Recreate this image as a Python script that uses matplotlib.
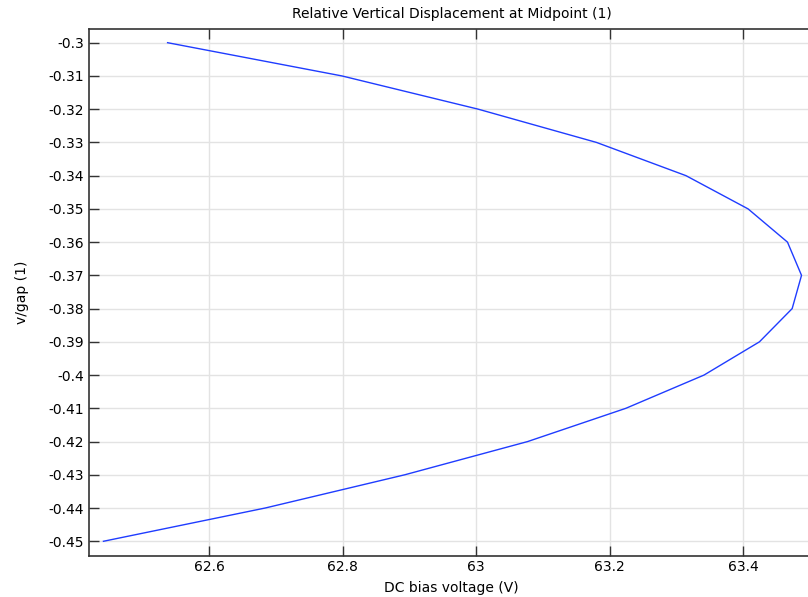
import matplotlib
matplotlib.use("Agg")
import matplotlib.pyplot as plt

displacement = [-0.30, -0.31, -0.32, -0.33, -0.34, -0.35, -0.36, -0.37,
                -0.38, -0.39, -0.40, -0.41, -0.42, -0.43, -0.44, -0.45]
voltage = [62.538, 62.799, 63.003, 63.180, 63.314, 63.407, 63.466, 63.487,
           63.473, 63.424, 63.341, 63.224, 63.077, 62.893, 62.684, 62.442]
xticks = [62.6, 62.8, 63.0, 63.2, 63.4]
xticklabels = ["62.6", "62.8", "63", "63.2", "63.4"]
yticks = [-0.30, -0.31, -0.32, -0.33, -0.34, -0.35, -0.36, -0.37,
          -0.38, -0.39, -0.40, -0.41, -0.42, -0.43, -0.44, -0.45]
yticklabels = ["-0.3", "-0.31", "-0.32", "-0.33", "-0.34", "-0.35", "-0.36", "-0.37",
               "-0.38", "-0.39", "-0.4", "-0.41", "-0.42", "-0.43", "-0.44", "-0.45"]

W, H = 808, 597
fig = plt.figure(figsize=(W / 100, H / 100), dpi=100)
left, right, top, bottom = 89, 814, 29, 556
ax = fig.add_axes([left / W, 1 - bottom / H, (right - left) / W, (bottom - top) / H])

ax.plot(voltage, displacement, color="#1f3cff", linewidth=1.0)

x0 = 62.6 - (209 - left) / 668.0
x1 = 62.6 + (right - 209) / 668.0
ax.set_xlim(x0, x1)
ax.set_ylim(-0.45443, -0.29588)

ax.set_xticks(xticks)
ax.set_xticklabels(xticklabels)
ax.set_yticks(yticks)
ax.set_yticklabels(yticklabels)
ax.grid(True, color="#e3e3e3", linewidth=1.0)
ax.set_axisbelow(True)
ax.tick_params(direction="in", length=7, width=1.0, labelsize=10, top=True, right=False,
               color="#333333")
ax.tick_params(axis="x", pad=3)
for s in ["left", "bottom", "top"]:
    ax.spines[s].set_color("#333333")
    ax.spines[s].set_linewidth(1.2)
ax.spines["right"].set_visible(False)

ax.set_xlabel("DC bias voltage (V)", fontsize=10, labelpad=5)
ax.set_ylabel("v/gap (1)", fontsize=10, labelpad=14)
ax.set_title("Relative Vertical Displacement at Midpoint (1)", fontsize=10, pad=8)

fig.savefig("out.png", dpi=100)
